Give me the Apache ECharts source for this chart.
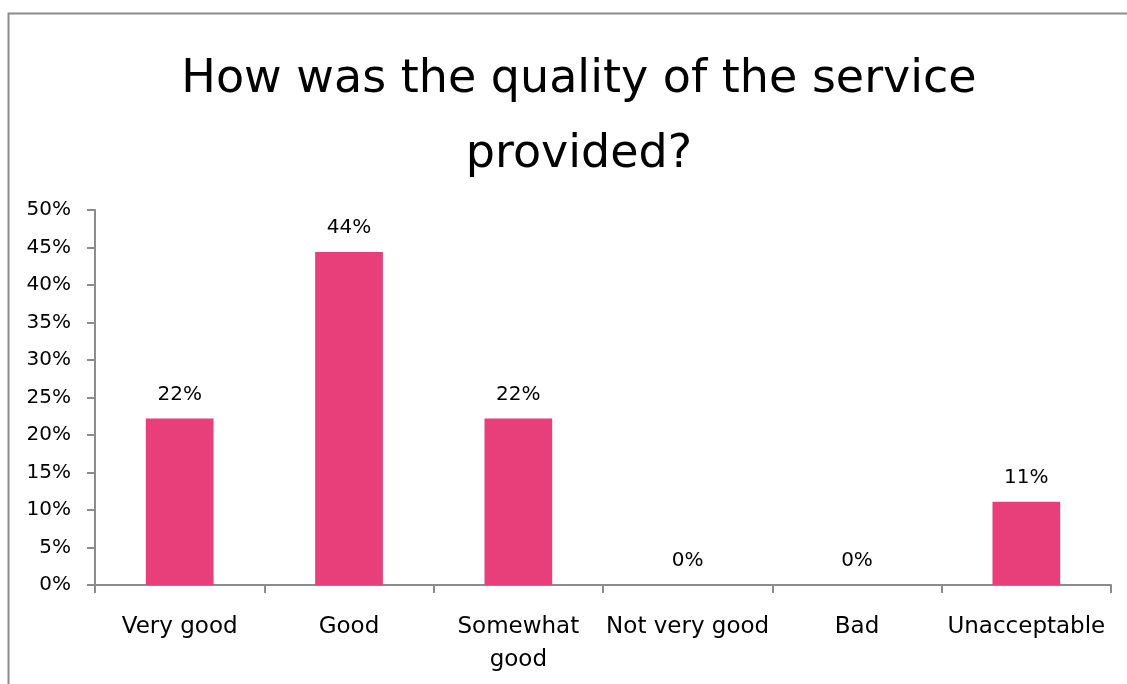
<!DOCTYPE html>
<html>
<head>
<meta charset="utf-8">
<script src="https://cdn.jsdelivr.net/npm/echarts@6/dist/echarts.min.js"></script>
<style>
  html, body { margin: 0; padding: 0; background: #fff; }
  #chart { width: 1127px; height: 684px; }
</style>
</head>
<body>
<div id="chart"></div>
<script>
// Survey answers and share of respondents (percent)
const titleText = 'How was the quality of the service\nprovided?';
const categories = ['Very good', 'Good', 'Somewhat\ngood', 'Not very good', 'Bad', 'Unacceptable'];
const shares = [22.2, 44.4, 22.2, 0, 0, 11.1];
const yTicks = { min: 0, max: 50, step: 5 };

const FONT = 'DejaVu Sans';
const chart = echarts.init(document.getElementById('chart'), null, { renderer: 'canvas' });

chart.setOption({
  animation: false,
  backgroundColor: '#ffffff',
  graphic: [{
    type: 'rect',
    left: 6, top: 11,
    shape: { width: 1300, height: 900 },
    style: { fill: 'none', stroke: '#8c8c8c', lineWidth: 2 },
    silent: true
  }],
  title: {
    text: titleText,
    left: 574,
    textAlign: 'center',
    top: 38,
    textStyle: { fontFamily: FONT, fontSize: 46, fontWeight: 'normal', color: '#000', lineHeight: 75 }
  },
  grid: { left: 95, right: 16, top: 210, bottom: 99 },
  xAxis: {
    type: 'category',
    data: categories,
    axisLine: { lineStyle: { color: '#8c8c8c', width: 2 } },
    axisTick: { show: true, length: 8, lineStyle: { color: '#8c8c8c', width: 2 } },
    axisLabel: { interval: 0, margin: 26, fontFamily: FONT, fontSize: 23, color: '#000', lineHeight: 33 }
  },
  yAxis: {
    type: 'value',
    min: yTicks.min, max: yTicks.max, interval: yTicks.step,
    splitLine: { show: false },
    axisLine: { show: true, lineStyle: { color: '#8c8c8c', width: 2 } },
    axisTick: { show: true, length: 8, lineStyle: { color: '#8c8c8c', width: 2 } },
    axisLabel: { margin: 24, fontFamily: FONT, fontSize: 20, color: '#000', formatter: v => v + '%' }
  },
  series: [{
    type: 'bar',
    data: shares,
    barWidth: '40%',
    itemStyle: { color: '#E83E7A' },
    label: {
      show: true, position: 'top', distance: 14,
      fontFamily: FONT, fontSize: 20, color: '#000',
      formatter: p => Math.round(p.value) + '%'
    }
  }]
});
</script>
</body>
</html>
